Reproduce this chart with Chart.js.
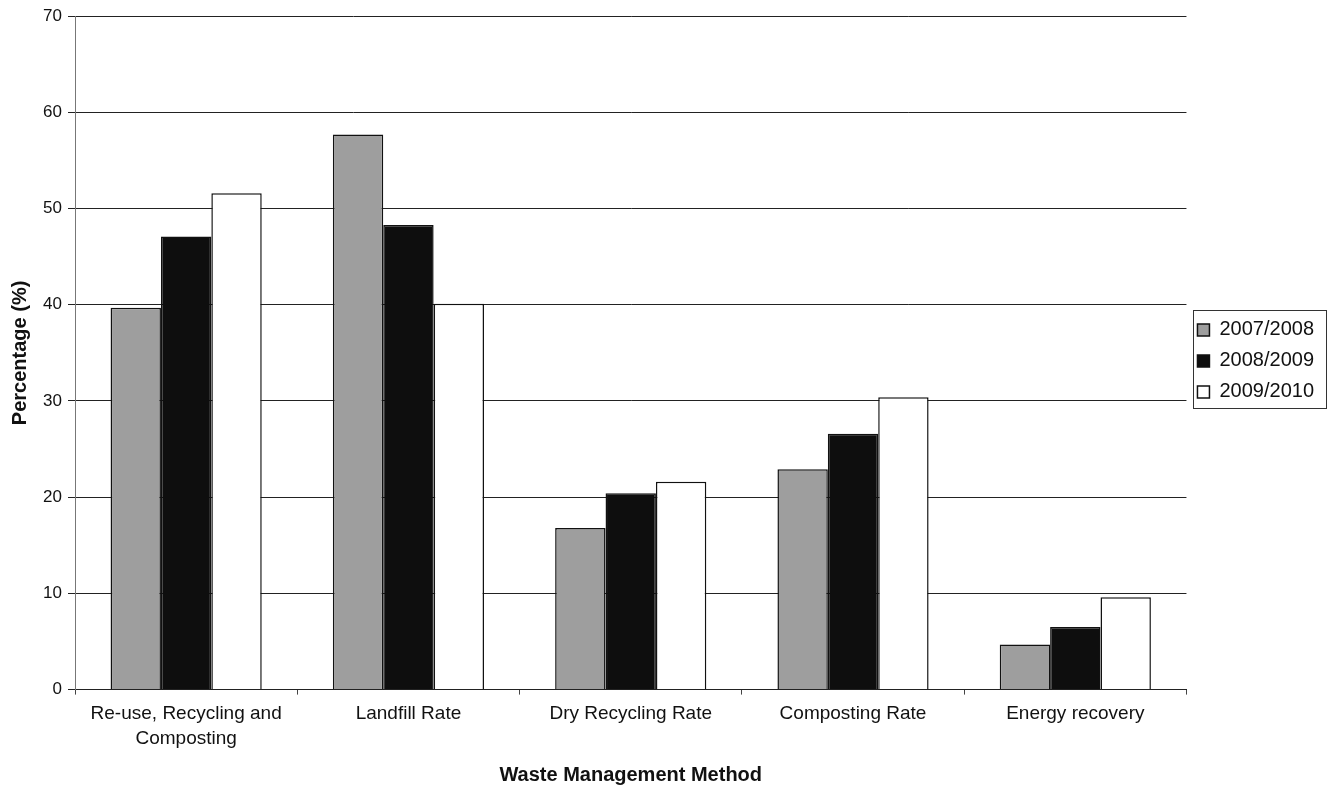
<!DOCTYPE html>
<html>
<head>
<meta charset="utf-8">
<script src="https://cdn.jsdelivr.net/npm/chart.js@4.4.0/dist/chart.umd.min.js"></script>
<style>
  html, body { margin: 0; padding: 0; background: #fff; }
  #wrap { width: 1335px; height: 793px; position: relative; }
</style>
</head>
<body>
<div id="wrap"><canvas id="c"></canvas></div>
<script>
const categories = [
  ["Re-use, Recycling and", "Composting"],
  "Landfill Rate",
  "Dry Recycling Rate",
  "Composting Rate",
  "Energy recovery"
];
const seriesNames = ["2007/2008", "2008/2009", "2009/2010"];
const values0708 = [39.7, 57.7, 16.8, 22.9, 4.7];
const values0809 = [47.1, 48.3, 20.4, 26.6, 6.5];
const values0910 = [51.6, 40.1, 21.6, 30.4, 9.6];
const yTicks = [0, 10, 20, 30, 40, 50, 60, 70];

const fills = ["#9e9e9e", "#0e0e0e", "#ffffff"];
const FONT = 'Liberation Sans, Arial, sans-serif';

const legendBorder = {
  id: 'legendBorder',
  afterDraw(chart) {
    const l = chart.legend;
    if (!l || !l.legendHitBoxes || !l.legendHitBoxes.length) return;
    const hb = l.legendHitBoxes;
    let x0 = Infinity, y0 = Infinity, x1 = -Infinity, y1 = -Infinity;
    hb.forEach(b => {
      x0 = Math.min(x0, b.left); y0 = Math.min(y0, b.top);
      x1 = Math.max(x1, b.left + b.width); y1 = Math.max(y1, b.top + b.height);
    });
    const ctx = chart.ctx;
    ctx.save();
    ctx.strokeStyle = '#333';
    ctx.lineWidth = 1;
    ctx.strokeRect(Math.round(x0 - 4) + 0.5, Math.round(y0 - 10) + 0.5,
                   Math.round(x1 - x0 + 16), Math.round(y1 - y0 + 16));
    ctx.restore();
  }
};

new Chart(document.getElementById('c'), {
  type: 'bar',
  data: {
    labels: categories,
    datasets: [values0708, values0809, values0910].map((v, i) => ({
      label: seriesNames[i],
      data: v,
      backgroundColor: fills[i],
      borderColor: '#111',
      borderWidth: 1.5,
      categoryPercentage: 0.68,
      barPercentage: 1.0
    }))
  },
  options: {
    responsive: true,
    maintainAspectRatio: false,
    animation: false,
    layout: { padding: { top: 8, right: 11, bottom: 4, left: 8 } },
    plugins: {
      legend: {
        position: 'right',
        fullSize: false,
        title: {
          display: true,
          text: ' ',
          font: { size: 10, lineHeight: 1 },
          padding: { top: 3, bottom: 3 }
        },
        labels: {
          color: '#111',
          font: { family: FONT, size: 20 },
          boxWidth: 12,
          boxHeight: 12,
          padding: 11
        }
      },
      tooltip: { enabled: false }
    },
    scales: {
      x: {
        grid: { display: true, drawOnChartArea: false, color: '#444', tickLength: 5, offset: true },
        border: { color: '#222', width: 1 },
        ticks: {
          color: '#111',
          font: { family: FONT, size: 19, lineHeight: 1.3 },
          maxRotation: 0,
          autoSkip: false,
          padding: 7
        },
        title: {
          display: true,
          text: 'Waste Management Method',
          color: '#111',
          font: { family: FONT, size: 20, weight: 'bold' },
          padding: { top: 5, bottom: 2 }
        }
      },
      y: {
        min: 0,
        max: 70,
        afterBuildTicks(scale) { scale.ticks = yTicks.map(v => ({ value: v })); },
        afterFit(scale) { scale.width = 67; },
        grid: { color: '#222', lineWidth: 1, tickLength: 7 },
        border: { color: '#777', width: 1 },
        ticks: {
          color: '#111',
          font: { family: FONT, size: 17 },
          padding: 6
        },
        title: {
          display: true,
          text: 'Percentage (%)',
          color: '#111',
          font: { family: FONT, size: 20, weight: 'bold' },
          padding: 0
        }
      }
    }
  },
  plugins: [legendBorder]
});
</script>
</body>
</html>
